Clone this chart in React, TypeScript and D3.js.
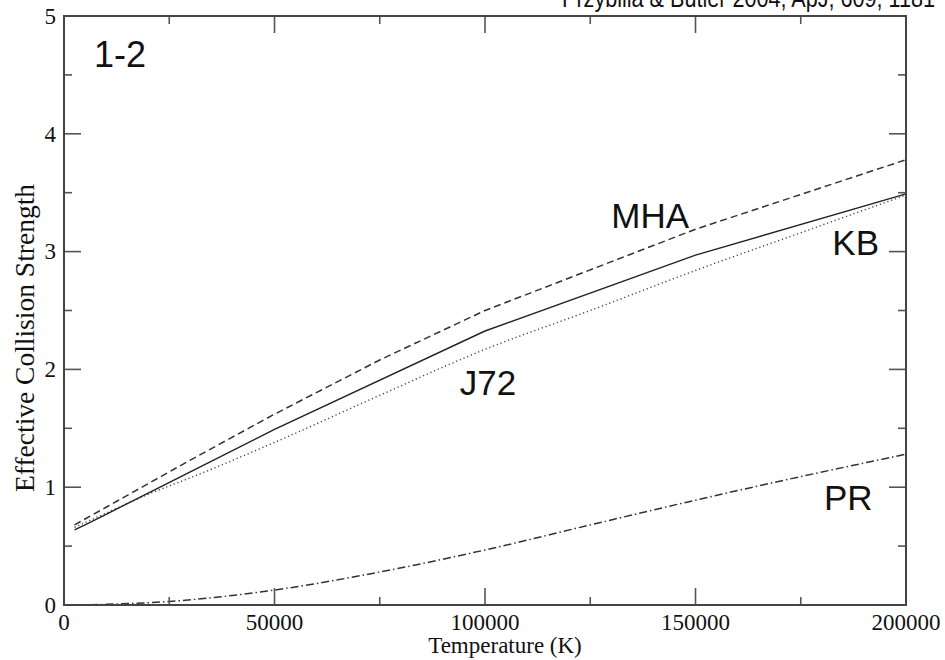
import React from "react";
import * as d3 from "d3";

// ---- data ----
const kbTemps = [2500, 5000, 10000, 20000, 30000, 50000, 100000, 150000, 200000];
const kbValues = [0.637, 0.68, 0.77, 0.95, 1.13, 1.49, 2.326, 2.97, 3.49];

const mhaTemps = [2500, 5000, 10000, 20000, 30000, 50000, 75000, 100000, 150000, 200000];
const mhaValues = [0.68, 0.73, 0.83, 1.03, 1.23, 1.62, 2.08, 2.5, 3.19, 3.78];

const j72Temps = [2500, 10000, 20000, 30000, 50000, 75000, 100000, 125000, 150000, 175000, 200000];
const j72Values = [0.66, 0.78, 0.94, 1.08, 1.38, 1.78, 2.17, 2.5, 2.84, 3.16, 3.48];

const prTemps = [2500, 10000, 25000, 50000, 75000, 100000, 125000, 150000, 175000, 200000];
const prValues = [0.0, 0.006, 0.03, 0.127, 0.28, 0.467, 0.68, 0.89, 1.09, 1.28];

const xMajorTicks = [0, 50000, 100000, 150000, 200000];
const xMinorTicks = [25000, 75000, 125000, 175000];
const yMajorTicks = [0, 1, 2, 3, 4, 5];
const yMinorTicks = [0.5, 1.5, 2.5, 3.5, 4.5];

const xTitle = "Temperature (K)";
const yTitle = "Effective Collision Strength";
const panelLabel = "1-2";
const topNote = "Przybilla & Butler 2004, ApJ, 609, 1181";

const seriesLabels = [
  { text: "MHA", t: 130000, v: 3.2 },
  { text: "KB", t: 182500, v: 2.97 },
  { text: "J72", t: 94000, v: 1.78 },
  { text: "PR", t: 180500, v: 0.81 },
];

// ---- layout ----
const W = 945;
const H = 660;
const L = 64;
const R = 906;
const T = 16;
const B = 605;

export default function App() {
  const x = d3.scaleLinear().domain([0, 200000]).range([L, R]);
  const y = d3.scaleLinear().domain([0, 5]).range([B, T]);

  const mk = (ts: number[], vs: number[], curve: d3.CurveFactory) =>
    d3
      .line<number>()
      .x((_, i) => x(ts[i]))
      .y((d) => y(d))
      .curve(curve)(vs) || "";

  const serif = "'Liberation Serif', 'DejaVu Serif', serif";
  const sans = "'Liberation Sans', 'DejaVu Sans', sans-serif";
  const tickColor = "#555";
  const majorLen = 17;
  const minorLen = 8;

  return (
    <svg
      width={W}
      height={H}
      style={{ position: "absolute", left: 0, top: 0, background: "#fff" }}
    >
      <rect x={0} y={0} width={W} height={H} fill="#fff" />
      {/* top note, clipped at the top edge as in the reference */}
      <text
        x={562}
        y={7}
        fontFamily={sans}
        fontSize={26}
        fill="#111"
        textLength={373}
        lengthAdjust="spacingAndGlyphs"
      >
        {topNote}
      </text>

      {/* series */}
      <path d={mk(mhaTemps, mhaValues, d3.curveLinear)} fill="none" stroke="#333" strokeWidth={1.5} strokeDasharray="7,4" />
      <path d={mk(j72Temps, j72Values, d3.curveMonotoneX)} fill="none" stroke="#444" strokeWidth={1.4} strokeDasharray="1.2,2.8" />
      <path d={mk(kbTemps, kbValues, d3.curveLinear)} fill="none" stroke="#222" strokeWidth={1.4} />
      <path d={mk(prTemps, prValues, d3.curveMonotoneX)} fill="none" stroke="#333" strokeWidth={1.5} strokeDasharray="8,3,1.5,3" />

      {/* ticks: bottom & top */}
      {xMajorTicks.map((t) => (
        <g key={"xM" + t}>
          <line x1={x(t)} x2={x(t)} y1={B} y2={B - majorLen} stroke={tickColor} strokeWidth={1.6} />
          <line x1={x(t)} x2={x(t)} y1={T} y2={T + majorLen} stroke={tickColor} strokeWidth={1.6} />
        </g>
      ))}
      {xMinorTicks.map((t) => (
        <g key={"xm" + t}>
          <line x1={x(t)} x2={x(t)} y1={B} y2={B - minorLen} stroke={tickColor} strokeWidth={1.6} />
          <line x1={x(t)} x2={x(t)} y1={T} y2={T + minorLen} stroke={tickColor} strokeWidth={1.6} />
        </g>
      ))}
      {/* ticks: left & right */}
      {yMajorTicks.map((v) => (
        <g key={"yM" + v}>
          <line x1={L} x2={L + majorLen} y1={y(v)} y2={y(v)} stroke={tickColor} strokeWidth={1.6} />
          <line x1={R} x2={R - majorLen} y1={y(v)} y2={y(v)} stroke={tickColor} strokeWidth={1.6} />
        </g>
      ))}
      {yMinorTicks.map((v) => (
        <g key={"ym" + v}>
          <line x1={L} x2={L + minorLen} y1={y(v)} y2={y(v)} stroke={tickColor} strokeWidth={1.6} />
          <line x1={R} x2={R - minorLen} y1={y(v)} y2={y(v)} stroke={tickColor} strokeWidth={1.6} />
        </g>
      ))}

      {/* frame */}
      <rect x={L} y={T} width={R - L} height={B - T} fill="none" stroke="#444" strokeWidth={2} />

      {/* tick labels */}
      {xMajorTicks.map((t) => (
        <text key={"xl" + t} x={x(t)} y={630} textAnchor="middle" fontFamily={serif} fontSize={23} fill="#111">
          {t}
        </text>
      ))}
      {yMajorTicks.map((v) => (
        <text key={"yl" + v} x={56} y={y(v)} dy="0.34em" textAnchor="end" fontFamily={serif} fontSize={23} fill="#111">
          {v}
        </text>
      ))}

      {/* axis titles */}
      <text x={505} y={653} textAnchor="middle" fontFamily={serif} fontSize={23} fill="#111">
        {xTitle}
      </text>
      <text
        transform={`translate(34, 338) rotate(-90)`}
        textAnchor="middle"
        fontFamily={serif}
        fontSize={27.5}
        fill="#111"
      >
        {yTitle}
      </text>

      {/* panel + series labels */}
      <text x={94} y={66.7} fontFamily={sans} fontSize={36} fill="#111">
        {panelLabel}
      </text>
      {seriesLabels.map((s) => (
        <text key={s.text} x={x(s.t)} y={y(s.v)} fontFamily={sans} fontSize={35} fill="#111">
          {s.text}
        </text>
      ))}
    </svg>
  );
}
